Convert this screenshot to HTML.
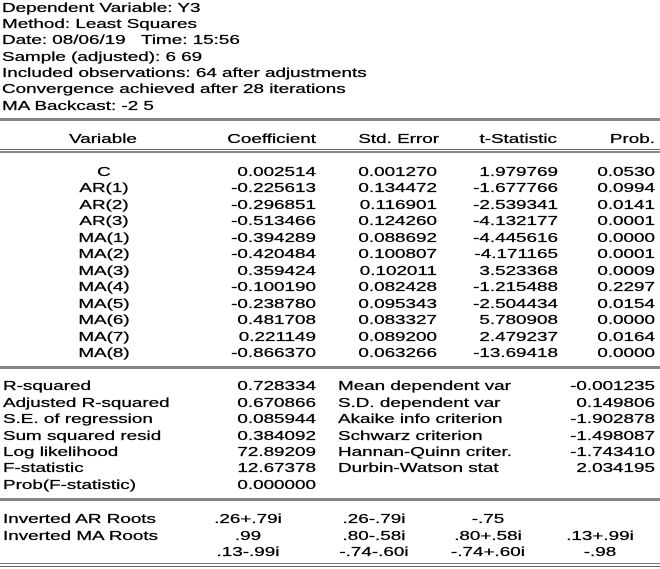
<!DOCTYPE html>
<html>
<head>
<meta charset="utf-8">
<style>
html,body{margin:0;padding:0;background:#fff;}
body{width:660px;height:569px;position:relative;overflow:hidden;}
.t{position:absolute;font:13px/16px "Liberation Sans",Arial,sans-serif;white-space:nowrap;color:#000;-webkit-text-stroke:0.25px #000;}
.l{transform:scaleX(1.45);transform-origin:0 0;}
.r{width:200px;text-align:right;transform:scaleX(1.45);transform-origin:100% 0;}
.c{width:200px;text-align:center;transform:scaleX(1.45);transform-origin:50% 0;}
.hl{position:absolute;left:0;width:660px;}
</style>
</head>
<body>
<!-- header -->
<div class="t l" style="left:2px;top:-0.3px">Dependent Variable: Y3</div>
<div class="t l" style="left:2px;top:16px">Method: Least Squares</div>
<div class="t l" style="left:2px;top:32.4px">Date: 08/06/19&nbsp;&nbsp; Time: 15:56</div>
<div class="t l" style="left:2px;top:48.7px">Sample (adjusted): 6 69</div>
<div class="t l" style="left:2px;top:65px">Included observations: 64 after adjustments</div>
<div class="t l" style="left:2px;top:81.3px">Convergence achieved after 28 iterations</div>
<div class="t l" style="left:2px;top:97.7px">MA Backcast: -2 5</div>

<div class="hl" style="top:118px;height:3px;background:#858585"></div>

<!-- column headers -->
<div class="t c" style="left:3px;top:130.6px">Variable</div>
<div class="t r" style="left:116px;top:130.6px">Coefficient</div>
<div class="t r" style="left:239px;top:130.6px">Std. Error</div>
<div class="t r" style="left:357px;top:130.6px">t-Statistic</div>
<div class="t r" style="left:455px;top:130.6px">Prob.</div>

<div class="hl" style="top:149px;height:1px;background:#666"></div>
<div class="hl" style="top:151px;height:2px;background:#888"></div>

<!-- rows -->
<div class="t c" style="left:4px;top:163.6px">C</div>
<div class="t c" style="left:4px;top:180.1px">AR(1)</div>
<div class="t c" style="left:4px;top:196.6px">AR(2)</div>
<div class="t c" style="left:4px;top:213.1px">AR(3)</div>
<div class="t c" style="left:4px;top:229.6px">MA(1)</div>
<div class="t c" style="left:4px;top:246.1px">MA(2)</div>
<div class="t c" style="left:4px;top:262.6px">MA(3)</div>
<div class="t c" style="left:4px;top:279.1px">MA(4)</div>
<div class="t c" style="left:4px;top:295.6px">MA(5)</div>
<div class="t c" style="left:4px;top:312.1px">MA(6)</div>
<div class="t c" style="left:4px;top:328.6px">MA(7)</div>
<div class="t c" style="left:4px;top:345.1px">MA(8)</div>

<div class="t r" style="left:115.5px;top:163.6px">0.002514</div>
<div class="t r" style="left:115.5px;top:180.1px">-0.225613</div>
<div class="t r" style="left:115.5px;top:196.6px">-0.296851</div>
<div class="t r" style="left:115.5px;top:213.1px">-0.513466</div>
<div class="t r" style="left:115.5px;top:229.6px">-0.394289</div>
<div class="t r" style="left:115.5px;top:246.1px">-0.420484</div>
<div class="t r" style="left:115.5px;top:262.6px">0.359424</div>
<div class="t r" style="left:115.5px;top:279.1px">-0.100190</div>
<div class="t r" style="left:115.5px;top:295.6px">-0.238780</div>
<div class="t r" style="left:115.5px;top:312.1px">0.481708</div>
<div class="t r" style="left:115.5px;top:328.6px">0.221149</div>
<div class="t r" style="left:115.5px;top:345.1px">-0.866370</div>

<div class="t r" style="left:237px;top:163.6px">0.001270</div>
<div class="t r" style="left:237px;top:180.1px">0.134472</div>
<div class="t r" style="left:237px;top:196.6px">0.116901</div>
<div class="t r" style="left:237px;top:213.1px">0.124260</div>
<div class="t r" style="left:237px;top:229.6px">0.088692</div>
<div class="t r" style="left:237px;top:246.1px">0.100807</div>
<div class="t r" style="left:237px;top:262.6px">0.102011</div>
<div class="t r" style="left:237px;top:279.1px">0.082428</div>
<div class="t r" style="left:237px;top:295.6px">0.095343</div>
<div class="t r" style="left:237px;top:312.1px">0.083327</div>
<div class="t r" style="left:237px;top:328.6px">0.089200</div>
<div class="t r" style="left:237px;top:345.1px">0.063266</div>

<div class="t r" style="left:358px;top:163.6px">1.979769</div>
<div class="t r" style="left:358px;top:180.1px">-1.677766</div>
<div class="t r" style="left:358px;top:196.6px">-2.539341</div>
<div class="t r" style="left:358px;top:213.1px">-4.132177</div>
<div class="t r" style="left:358px;top:229.6px">-4.445616</div>
<div class="t r" style="left:358px;top:246.1px">-4.171165</div>
<div class="t r" style="left:358px;top:262.6px">3.523368</div>
<div class="t r" style="left:358px;top:279.1px">-1.215488</div>
<div class="t r" style="left:358px;top:295.6px">-2.504434</div>
<div class="t r" style="left:358px;top:312.1px">5.780908</div>
<div class="t r" style="left:358px;top:328.6px">2.479237</div>
<div class="t r" style="left:358px;top:345.1px">-13.69418</div>

<div class="t r" style="left:455px;top:163.6px">0.0530</div>
<div class="t r" style="left:455px;top:180.1px">0.0994</div>
<div class="t r" style="left:455px;top:196.6px">0.0141</div>
<div class="t r" style="left:455px;top:213.1px">0.0001</div>
<div class="t r" style="left:455px;top:229.6px">0.0000</div>
<div class="t r" style="left:455px;top:246.1px">0.0001</div>
<div class="t r" style="left:455px;top:262.6px">0.0009</div>
<div class="t r" style="left:455px;top:279.1px">0.2297</div>
<div class="t r" style="left:455px;top:295.6px">0.0154</div>
<div class="t r" style="left:455px;top:312.1px">0.0000</div>
<div class="t r" style="left:455px;top:328.6px">0.0164</div>
<div class="t r" style="left:455px;top:345.1px">0.0000</div>

<div class="hl" style="top:366px;height:3px;background:#858585"></div>

<!-- stats -->
<div class="t l" style="left:2.5px;top:378.3px">R-squared</div>
<div class="t l" style="left:2.5px;top:394.7px">Adjusted R-squared</div>
<div class="t l" style="left:2.5px;top:411.1px">S.E. of regression</div>
<div class="t l" style="left:2.5px;top:427.5px">Sum squared resid</div>
<div class="t l" style="left:2.5px;top:443.9px">Log likelihood</div>
<div class="t l" style="left:2.5px;top:460.3px">F-statistic</div>
<div class="t l" style="left:2.5px;top:476.7px">Prob(F-statistic)</div>

<div class="t r" style="left:115.5px;top:378.3px">0.728334</div>
<div class="t r" style="left:115.5px;top:394.7px">0.670866</div>
<div class="t r" style="left:115.5px;top:411.1px">0.085944</div>
<div class="t r" style="left:115.5px;top:427.5px">0.384092</div>
<div class="t r" style="left:115.5px;top:443.9px">72.89209</div>
<div class="t r" style="left:115.5px;top:460.3px">12.67378</div>
<div class="t r" style="left:115.5px;top:476.7px">0.000000</div>

<div class="t l" style="left:338px;top:378.3px">Mean dependent var</div>
<div class="t l" style="left:338px;top:394.7px">S.D. dependent var</div>
<div class="t l" style="left:338px;top:411.1px">Akaike info criterion</div>
<div class="t l" style="left:338px;top:427.5px">Schwarz criterion</div>
<div class="t l" style="left:338px;top:443.9px">Hannan-Quinn criter.</div>
<div class="t l" style="left:338px;top:460.3px">Durbin-Watson stat</div>

<div class="t r" style="left:455px;top:378.3px">-0.001235</div>
<div class="t r" style="left:455px;top:394.7px">0.149806</div>
<div class="t r" style="left:455px;top:411.1px">-1.902878</div>
<div class="t r" style="left:455px;top:427.5px">-1.498087</div>
<div class="t r" style="left:455px;top:443.9px">-1.743410</div>
<div class="t r" style="left:455px;top:460.3px">2.034195</div>

<div class="hl" style="top:498px;height:3px;background:#858585"></div>

<!-- roots -->
<div class="t l" style="left:2.5px;top:511px">Inverted AR Roots</div>
<div class="t l" style="left:2.5px;top:527.6px">Inverted MA Roots</div>

<div class="t c" style="left:148px;top:511px">.26+.79i</div>
<div class="t c" style="left:148px;top:527.6px">.99</div>
<div class="t c" style="left:148px;top:544.2px">.13-.99i</div>

<div class="t c" style="left:274px;top:511px">.26-.79i</div>
<div class="t c" style="left:274px;top:527.6px">.80-.58i</div>
<div class="t c" style="left:274px;top:544.2px">-.74-.60i</div>

<div class="t c" style="left:388px;top:511px">-.75</div>
<div class="t c" style="left:388px;top:527.6px">.80+.58i</div>
<div class="t c" style="left:388px;top:544.2px">-.74+.60i</div>

<div class="t c" style="left:500px;top:527.6px">.13+.99i</div>
<div class="t c" style="left:500px;top:544.2px">-.98</div>

<div class="hl" style="top:563px;height:1px;background:#777"></div>
<div class="hl" style="top:566px;height:1px;background:#666"></div>
</body>
</html>
